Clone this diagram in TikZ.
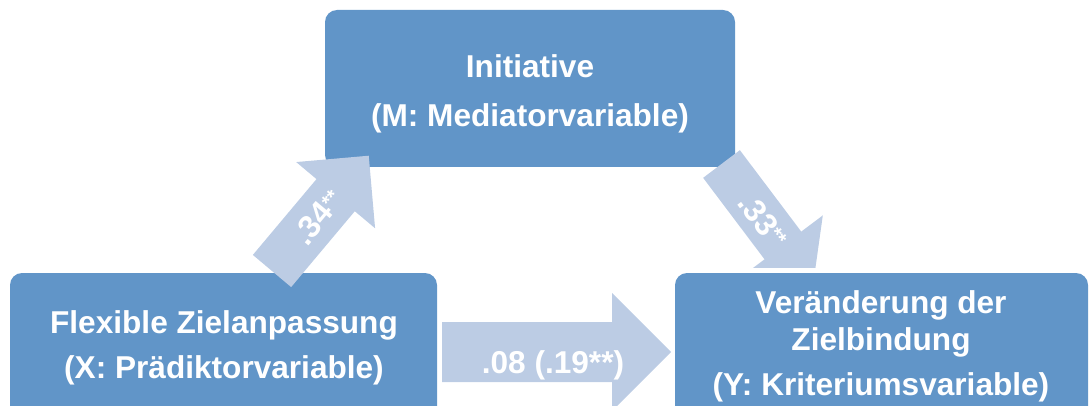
\documentclass[tikz,border=0pt]{standalone}
\usepackage{fontspec}
\setmainfont{Liberation Sans}
\definecolor{boxblue}{RGB}{97,149,200}
\definecolor{arrowblue}{RGB}{188,204,228}
\tikzset{
  panel/.style={fill=boxblue, draw=none, rounded corners=12pt, inner sep=0pt, outer sep=0pt},
  boxtext/.style={text=white, font=\bfseries\fontsize{31.6}{38}\selectfont, anchor=base, inner sep=0pt},
  flow/.style={fill=arrowblue},
}
% block arrow: name, origin, angle, shaft length, shaft half width, head half width, label position, label
\newcommand\blockarrow[8]{%
  \begin{scope}[shift={#2}, rotate=#3]
    \fill[flow] (0,-#5) -- (#4,-#5) -- (#4,-#6) -- ++(#6,#6) -- (#4,#6) -- (#4,#5) -- (0,#5) -- cycle;
    \node[boxtext, transform shape] (#1) at (#7) {#8};
  \end{scope}}
\newcommand\stars{\raisebox{6pt}{\fontsize{20}{20}\selectfont **}}
\begin{document}
\begin{tikzpicture}[x=1pt,y=1pt]
  \useasboundingbox (0,0) rectangle (1090,405);
  \clip (0,0) rectangle (1090,405);

  % boxes
  \node[panel, anchor=north west, minimum width=427pt, minimum height=170pt] (xbox) at (10,132) {};
  \node[panel, anchor=north west, minimum width=410pt, minimum height=157pt] (mbox) at (325,395) {};
  \node[panel, anchor=north west, minimum width=413pt, minimum height=170pt] (ybox) at (675,132) {};

  % box texts
  \node[boxtext] (m1) at (530,327) {Initiative};
  \node[boxtext] (m2) at (530,278) {(M: Mediatorvariable)};
  \node[boxtext] (x1) at (224,72) {Flexible Zielanpassung};
  \node[boxtext] (x2) at (224,27) {(X: Prädiktorvariable)};
  \node[boxtext] (y1) at (881,92) {Veränderung der};
  \node[boxtext] (y2) at (881,55) {Zielbindung};
  \node[boxtext] (y3) at (881,10) {(Y: Kriteriumsvariable)};

  % path coefficients
  \blockarrow{direct}{(442,53)}{0}{170}{30}{59}{111,-21}{.08 (.19**)}
  \blockarrow{apath}{(272,134)}{50}{99}{25}{51.5}{70.5,-11.5}{.34\stars}
  \begin{scope}
    \clip (0,138) rectangle (1090,405);
    \blockarrow{bpath}{(721.5,241)}{-53}{102}{23}{50}{70,-11.5}{.33\stars}
  \end{scope}
\end{tikzpicture}
\end{document}
